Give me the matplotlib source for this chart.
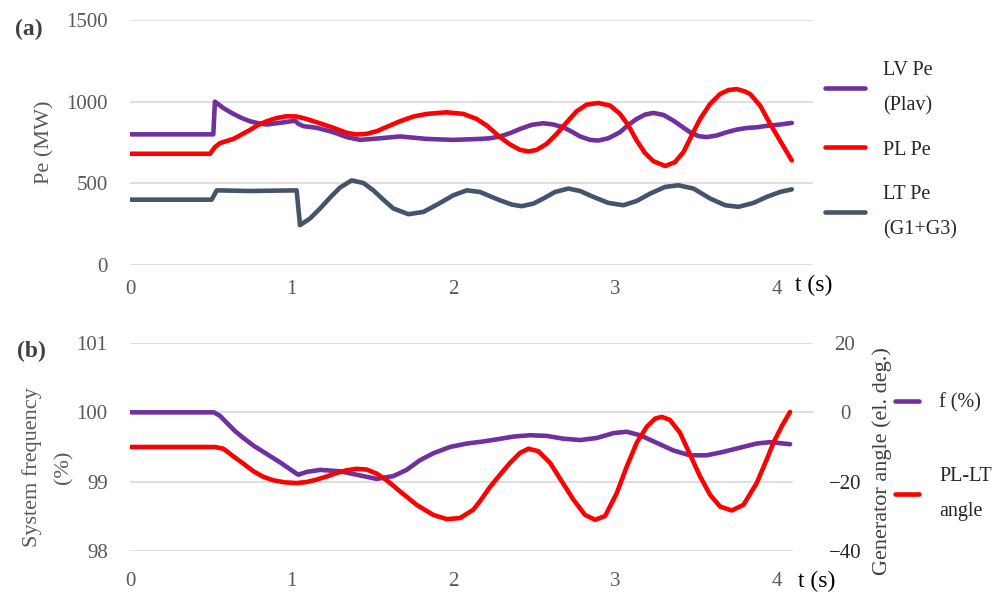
import matplotlib
matplotlib.use("Agg")
import matplotlib.pyplot as plt

plt.rcParams['font.family'] = ['Liberation Serif', 'DejaVu Serif']

# ---- (a) electrical power of the plants, MW ----
t_lv = [0, 0.515, 0.525, 0.577, 0.639, 0.690, 0.742, 0.793, 0.845, 0.907, 0.969, 1.020,
        1.041, 1.072, 1.154, 1.257, 1.340, 1.422, 1.525, 1.669, 1.834, 1.999, 2.164,
        2.226, 2.287, 2.349, 2.411, 2.483, 2.555, 2.617, 2.679, 2.730, 2.782, 2.844,
        2.895, 2.957, 3.029, 3.081, 3.132, 3.184, 3.235, 3.297, 3.359, 3.411, 3.462,
        3.514, 3.565, 3.627, 3.689, 3.751, 3.813, 3.874, 3.936, 4.018, 4.091]
pe_lv = [800, 800, 1000, 961, 925, 900, 880, 868, 860, 868, 876, 884,
         864, 850, 840, 813, 783, 766, 774, 787, 772, 766, 772,
         776, 787, 807, 833, 858, 868, 860, 843, 817, 787, 766,
         762, 776, 813, 858, 894, 921, 931, 919, 884, 848, 813,
         789, 783, 793, 813, 829, 839, 843, 852, 860, 870]

t_pl = [0, 0.495, 0.525, 0.556, 0.639, 0.690, 0.742, 0.793, 0.845, 0.907, 0.969, 1.030,
        1.092, 1.154, 1.257, 1.340, 1.401, 1.463, 1.525, 1.607, 1.669, 1.752, 1.834,
        1.958, 2.061, 2.143, 2.205, 2.287, 2.349, 2.411, 2.463, 2.514, 2.576, 2.638,
        2.700, 2.761, 2.823, 2.895, 2.968, 3.029, 3.081, 3.132, 3.184, 3.235, 3.308,
        3.369, 3.421, 3.472, 3.524, 3.586, 3.648, 3.699, 3.751, 3.800, 3.833, 3.895,
        3.957, 4.018, 4.091]
pe_pl = [681, 681, 722, 746, 772, 799, 827, 858, 880, 900, 911, 909,
         894, 874, 840, 809, 799, 803, 819, 854, 880, 909, 925,
         935, 925, 894, 854, 783, 738, 705, 695, 705, 742, 803,
         874, 941, 982, 992, 976, 925, 854, 762, 685, 636, 606,
         630, 691, 793, 894, 986, 1047, 1071, 1077, 1063, 1047, 976,
         864, 762, 640]

t_lt = [0, 0.505, 0.536, 0.742, 1.030, 1.051, 1.113, 1.175, 1.237, 1.298, 1.370, 1.443,
        1.504, 1.566, 1.628, 1.721, 1.814, 1.917, 1.999, 2.082, 2.164, 2.226, 2.287,
        2.360, 2.421, 2.494, 2.555, 2.627, 2.710, 2.782, 2.864, 2.957, 3.050, 3.132,
        3.215, 3.308, 3.390, 3.483, 3.586, 3.679, 3.761, 3.854, 3.936, 4.018, 4.091]
pe_lt = [400, 400, 457, 453, 457, 244, 285, 346, 413, 474, 518, 502,
         457, 400, 346, 311, 325, 380, 427, 457, 447, 421, 396,
         370, 360, 376, 407, 447, 468, 453, 417, 380, 366, 392,
         437, 478, 488, 468, 407, 366, 356, 380, 417, 447, 463]

# ---- (b) system frequency (%) and PL-LT angle (el. deg.) ----
t_f = [0, 0.519, 0.556, 0.598, 0.649, 0.701, 0.763, 0.845, 0.927, 0.989, 1.040, 1.092,
       1.175, 1.298, 1.422, 1.525, 1.628, 1.710, 1.793, 1.875, 1.978, 2.082, 2.184,
       2.267, 2.370, 2.473, 2.576, 2.679, 2.782, 2.885, 2.988, 3.070, 3.153, 3.256,
       3.359, 3.462, 3.565, 3.668, 3.771, 3.874, 3.957, 4.080]
freq = [100, 100, 99.95, 99.85, 99.73, 99.63, 99.52, 99.40, 99.28, 99.18, 99.10, 99.14,
        99.17, 99.15, 99.09, 99.04, 99.08, 99.17, 99.31, 99.41, 99.50, 99.55, 99.58,
        99.61, 99.65, 99.67, 99.66, 99.62, 99.60, 99.63, 99.70, 99.72, 99.67, 99.56,
        99.45, 99.38, 99.38, 99.43, 99.49, 99.55, 99.57, 99.54]

t_ang = [0, 0.525, 0.577, 0.639, 0.701, 0.763, 0.824, 0.886, 0.958, 1.030, 1.092, 1.154,
         1.216, 1.278, 1.340, 1.401, 1.463, 1.525, 1.587, 1.669, 1.772, 1.875, 1.958,
         2.040, 2.122, 2.164, 2.226, 2.287, 2.349, 2.411, 2.463, 2.524, 2.597, 2.669,
         2.741, 2.813, 2.875, 2.937, 3.009, 3.071, 3.132, 3.194, 3.246, 3.287, 3.338,
         3.400, 3.462, 3.524, 3.586, 3.648, 3.720, 3.792, 3.874, 3.936, 3.977, 4.029,
         4.080]
angle = [-10, -10, -10.5, -12.7, -14.8, -17.0, -18.6, -19.6, -20.2, -20.4, -20.1, -19.4,
         -18.5, -17.5, -16.7, -16.3, -16.5, -17.7, -19.6, -22.8, -26.7, -29.6, -30.8,
         -30.5, -28.1, -25.6, -21.5, -18.0, -14.6, -11.7, -10.5, -11.2, -14.6, -19.9,
         -25.2, -29.6, -31.0, -29.9, -23.3, -15.6, -8.8, -4.2, -1.8, -1.3, -2.2,
         -5.9, -12.2, -18.5, -23.8, -27.2, -28.3, -26.7, -20.4, -13.6, -8.8, -4.0,
         0.1]

x_ticks = [0, 1, 2, 3, 4]
pe_ticks = [0, 500, 1000, 1500]
f_ticks = [98, 99, 100, 101]
ang_ticks = [-40, -20, 0, 20]

PURPLE = '#7030A0'
RED = '#FF0000'
SLATE = '#44546A'
GRID = '#D9D9D9'
TICK = '#595959'
LW = 3.3

W, H = 1005, 596
fig = plt.figure(figsize=(W / 100, H / 100), dpi=100)


def box(left, top, right, bottom):
    return [left / W, 1 - bottom / H, (right - left) / W, (bottom - top) / H]


def style(ax):
    for s in ax.spines.values():
        s.set_visible(False)
    ax.tick_params(length=0, labelsize=15, labelcolor=TICK)


# ---------------- (a) ----------------
axa = fig.add_axes(box(130, 20, 813, 265))
style(axa)
axa.set_xlim(0, 4.222)
axa.set_ylim(0, 1500)
axa.set_xticks(x_ticks)
axa.set_yticks(pe_ticks)
axa.tick_params(axis='y', pad=16)
axa.tick_params(axis='x', pad=11)
for v in pe_ticks:
    axa.axhline(v, color=GRID, lw=1.2, zorder=0)
axa.plot(t_lv, pe_lv, color=PURPLE, lw=LW, label='LV Pe\n(Plav)',
         solid_capstyle='round', solid_joinstyle='round')
axa.plot(t_pl, pe_pl, color=RED, lw=LW, label='PL Pe',
         solid_capstyle='round', solid_joinstyle='round')
axa.plot(t_lt, pe_lt, color=SLATE, lw=LW, label='LT Pe\n(G1+G3)',
         solid_capstyle='round', solid_joinstyle='round')
axa.set_xlabel('t (s)', fontsize=17, color='black')
axa.xaxis.set_label_coords((814 - 130) / 683, (265 - 275) / 245)

leg_a = axa.legend(loc='center left', bbox_to_anchor=(825 / W, 1 - 150 / H),
                   bbox_transform=fig.transFigure, frameon=False, fontsize=14.5,
                   handlelength=2.0, handletextpad=0.9, labelspacing=1.25,
                   borderpad=0, borderaxespad=0)
for txt in leg_a.get_texts():
    txt.set_linespacing(2.15)
    txt.set_color('#262626')

fig.text(45 / W, 1 - 142 / H, 'Pe (MW)', rotation=90, ha='center', va='center',
         fontsize=16, color=TICK)
fig.text(29 / W, 1 - 29 / H, '(a)', ha='center', va='center', fontsize=17,
         fontweight='bold', color='#404040')

# ---------------- (b) ----------------
axb = fig.add_axes(box(130, 343, 813, 551))
style(axb)
axb.set_xlim(0, 4.222)
axb.set_ylim(98, 101)
axb.set_xticks(x_ticks)
axb.set_yticks(f_ticks)
axb.tick_params(axis='y', pad=16)
axb.tick_params(axis='x', pad=15)
for v, xmax in zip(f_ticks, [0.969, 0.969, 1.0, 1.0]):
    axb.axhline(v, xmax=xmax, color=GRID, lw=1.2, zorder=0)
lf, = axb.plot(t_f, freq, color=PURPLE, lw=LW,
               solid_capstyle='round', solid_joinstyle='round')
axb.set_xlabel('t (s)', fontsize=17, color='black')
axb.xaxis.set_label_coords((817 - 130) / 683, (551 - 571) / 208)

ax2 = axb.twinx()
style(ax2)
ax2.set_ylim(-40, 20)
ax2.set_yticks(ang_ticks)
ax2.set_yticklabels(['\u221240', '\u221220', '0', '20'])
ax2.tick_params(axis='y', pad=23)
for lab, col in zip(ax2.get_yticklabels(), ['#262626', '#262626', TICK, TICK]):
    lab.set_horizontalalignment('center')
    lab.set_color(col)
la, = ax2.plot(t_ang, angle, color=RED, lw=LW,
               solid_capstyle='round', solid_joinstyle='round')

leg_b = ax2.legend([lf, la], ['f (%)', 'PL-LT\nangle'], loc='center left',
                   bbox_to_anchor=(895 / W, 1 - 457 / H), bbox_transform=fig.transFigure,
                   frameon=False, fontsize=14.5, handlelength=1.2, handletextpad=1.0,
                   labelspacing=2.68, borderpad=0, borderaxespad=0)
for txt in leg_b.get_texts():
    txt.set_linespacing(2.15)
    txt.set_color('#262626')

fig.text(48 / W, 1 - 467 / H, 'System frequency\n(%)', rotation=90, ha='center',
         va='center', fontsize=16, color=TICK, linespacing=1.85)
fig.text(882 / W, 1 - 461 / H, 'Generator angle (el. deg.)', rotation=90, ha='center',
         va='center', fontsize=16, color='#404040')
fig.text(31 / W, 1 - 351 / H, '(b)', ha='center', va='center', fontsize=17,
         fontweight='bold', color='#404040')

fig.savefig('out.png', dpi=100)
